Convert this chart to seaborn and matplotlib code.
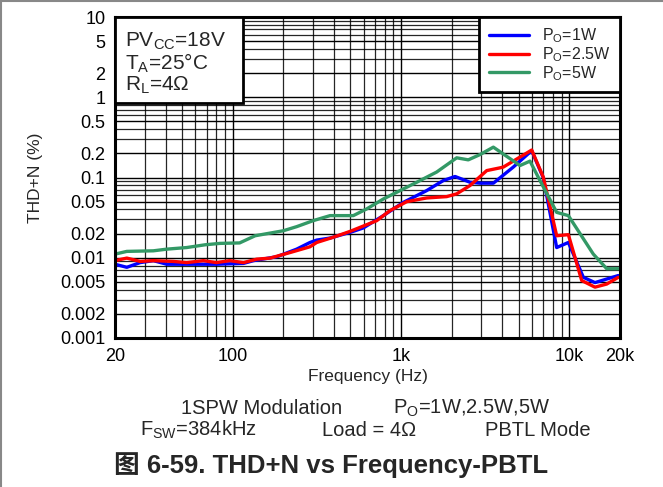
import numpy as np
import pandas as pd
import matplotlib
matplotlib.use("Agg")
import matplotlib.pyplot as plt
from matplotlib.ticker import FixedLocator, NullFormatter, LogLocator
from matplotlib.lines import Line2D
from matplotlib.patches import Rectangle
import seaborn as sns

# data (frequency in Hz, THD+N in %)
freq_1w = [20, 23.5, 28.2, 33.8, 40.6, 58, 80, 116, 133, 183, 240, 288, 316, 379, 498,
           597, 786, 1033, 1422, 1786, 2096, 2572, 2948, 3540, 4652, 5984, 7012, 8420,
           9880, 12130, 14220, 19560]
thd_1w = [0.0083, 0.0076, 0.0087, 0.0092, 0.0083, 0.0083, 0.0083, 0.0085, 0.0092, 0.0103,
          0.0128, 0.0155, 0.0166, 0.0176, 0.0207, 0.0235, 0.0335, 0.049, 0.0687, 0.0917,
          0.103, 0.0873, 0.085, 0.085, 0.135, 0.216, 0.099, 0.0134, 0.0155, 0.0057,
          0.0049, 0.0060]

freq_25w = [20, 23.5, 28.2, 33.8, 44.4, 53.3, 67, 80, 96, 116, 139, 167, 219, 288, 316,
            396, 498, 718, 861, 1082, 1422, 1871, 2144, 2572, 3234, 3880, 4060, 5984,
            7012, 8420, 9880, 11860, 14220, 16700, 19560]
thd_25w = [0.0092, 0.0099, 0.0090, 0.0092, 0.0090, 0.0087, 0.0092, 0.0087, 0.0092, 0.0087,
           0.0096, 0.0099, 0.0116, 0.0137, 0.0155, 0.018, 0.0213, 0.029, 0.0387, 0.050,
           0.0556, 0.0578, 0.0626, 0.0794, 0.122, 0.132, 0.135, 0.22, 0.101, 0.0188,
           0.0194, 0.0052, 0.0043, 0.0047, 0.0057]

freq_5w = [20, 23.5, 33.8, 40.6, 53.3, 68.5, 84, 110, 136, 200, 240, 301, 379, 521, 626,
           786, 944, 1241, 1630, 2144, 2512, 2948, 3540, 5100, 5844, 6700, 8420, 9880,
           13900, 16700, 19600]
thd_5w = [0.0111, 0.0120, 0.0122, 0.0128, 0.0134, 0.0145, 0.0151, 0.0153, 0.0188, 0.0217,
          0.0244, 0.029, 0.0335, 0.0335, 0.0406, 0.054, 0.0655, 0.0873, 0.117, 0.176,
          0.166, 0.193, 0.239, 0.141, 0.16, 0.0917, 0.0368, 0.0335, 0.0111, 0.0073, 0.0073]

series_names = ["P$_\\mathregular{O}$=1W", "P$_\\mathregular{O}$=2.5W", "P$_\\mathregular{O}$=5W"]
series_colors = ["#0000ff", "#ff0000", "#339966"]

x_ticks = [20, 100, 1000, 10000, 20000]
x_labels = ["20", "100", "1k", "10k", "20k"]
y_ticks = [0.001, 0.002, 0.005, 0.01, 0.02, 0.05, 0.1, 0.2, 0.5, 1, 2, 5, 10]
y_labels = ["0.001", "0.002", "0.005", "0.01", "0.02", "0.05", "0.1", "0.2", "0.5",
            "1", "2", "5", "10"]

frames = []
for name, f, v in zip(series_names, [freq_1w, freq_25w, freq_5w], [thd_1w, thd_25w, thd_5w]):
    frames.append(pd.DataFrame({"freq": f, "thd": v, "series": name}))
df = pd.concat(frames, ignore_index=True)

sns.set_style("white")
plt.rcParams["font.family"] = ["Liberation Sans", "Noto Sans CJK SC", "DejaVu Sans"]
plt.rcParams["mathtext.fontset"] = "custom"
plt.rcParams["mathtext.rm"] = "Liberation Sans"

fig = plt.figure(figsize=(6.63, 4.87), dpi=100)
ax = fig.add_axes([0.1735, 0.306, 0.7615, 0.659])

sns.lineplot(data=df, x="freq", y="thd", hue="series", palette=series_colors,
             hue_order=series_names, linewidth=2.4, sort=False, estimator=None,
             ax=ax, legend=False)

ax.set_xscale("log")
ax.set_yscale("log")
ax.set_xlim(20, 20000)
ax.set_ylim(0.001, 10)

ax.xaxis.set_major_locator(FixedLocator(x_ticks))
ax.set_xticklabels(x_labels)
ax.xaxis.set_minor_locator(LogLocator(base=10, subs=np.arange(2, 10)))
ax.xaxis.set_minor_formatter(NullFormatter())
ax.yaxis.set_major_locator(FixedLocator(y_ticks))
ax.set_yticklabels(y_labels)
ax.yaxis.set_minor_locator(LogLocator(base=10, subs=np.arange(2, 10)))
ax.yaxis.set_minor_formatter(NullFormatter())
ax.tick_params(which="both", length=0, labelsize=13, pad=7, colors="black")

ax.grid(True, which="major", color="black", linewidth=1.0)
ax.grid(True, which="minor", color="black", linewidth=0.9, alpha=0.85)
ax.set_axisbelow(True)
for s in ax.spines.values():
    s.set_visible(True)
    s.set_color("black")
    s.set_linewidth(2.2)

ax.set_xlabel("Frequency (Hz)", fontsize=12.5, labelpad=3)
ax.set_ylabel("THD+N (%)", fontsize=12.5, labelpad=12)

# condition box, flush with the top-left corner
ax.add_patch(Rectangle((0, 0.732), 0.253, 0.268, transform=ax.transAxes,
                       facecolor="white", edgecolor="black", linewidth=2.0, zorder=5))
ax.text(0.02, 0.957,
        "PV$_\\mathregular{CC}$=18V\nT$_\\mathregular{A}$=25°C\nR$_\\mathregular{L}$=4Ω",
        transform=ax.transAxes, ha="left", va="top", fontsize=15, linespacing=0.95,
        zorder=6)

handles = [Line2D([0], [0], color=c, linewidth=2.4) for c in series_colors]
leg = ax.legend(handles, series_names, loc="upper right", bbox_to_anchor=(1.0, 1.0),
                fontsize=11.5, frameon=True, fancybox=False, framealpha=1,
                borderaxespad=0, handlelength=2.5, labelspacing=0.0,
                borderpad=0.6, handletextpad=0.8)
leg.get_frame().set_edgecolor("black")
leg.get_frame().set_linewidth(2.0)
leg.set_zorder(6)

fig.text(0.273, 0.162, "1SPW Modulation", fontsize=14.5, ha="left", va="center")
fig.text(0.593, 0.162, "P$_\\mathregular{O}$=1W,2.5W,5W", fontsize=14.5, ha="left", va="center")
fig.text(0.211, 0.117, "F$_\\mathregular{SW}$=384kHz", fontsize=14.5, ha="left", va="center")
fig.text(0.486, 0.117, "Load = 4Ω", fontsize=14.5, ha="left", va="center")
fig.text(0.731, 0.117, "PBTL Mode", fontsize=14.5, ha="left", va="center")
fig.text(0.5, 0.045, "图 6-59. THD+N vs Frequency-PBTL", fontsize=18.5, fontweight="bold",
         ha="center", va="center")

# thin grey frame at left and top of the figure
fig.add_artist(Line2D([0.002, 0.002], [0, 1], color="#888888", linewidth=1.5,
                      transform=fig.transFigure))
fig.add_artist(Line2D([0, 1], [0.998, 0.998], color="#888888", linewidth=1.5,
                      transform=fig.transFigure))

fig.savefig("out.png", dpi=100)
